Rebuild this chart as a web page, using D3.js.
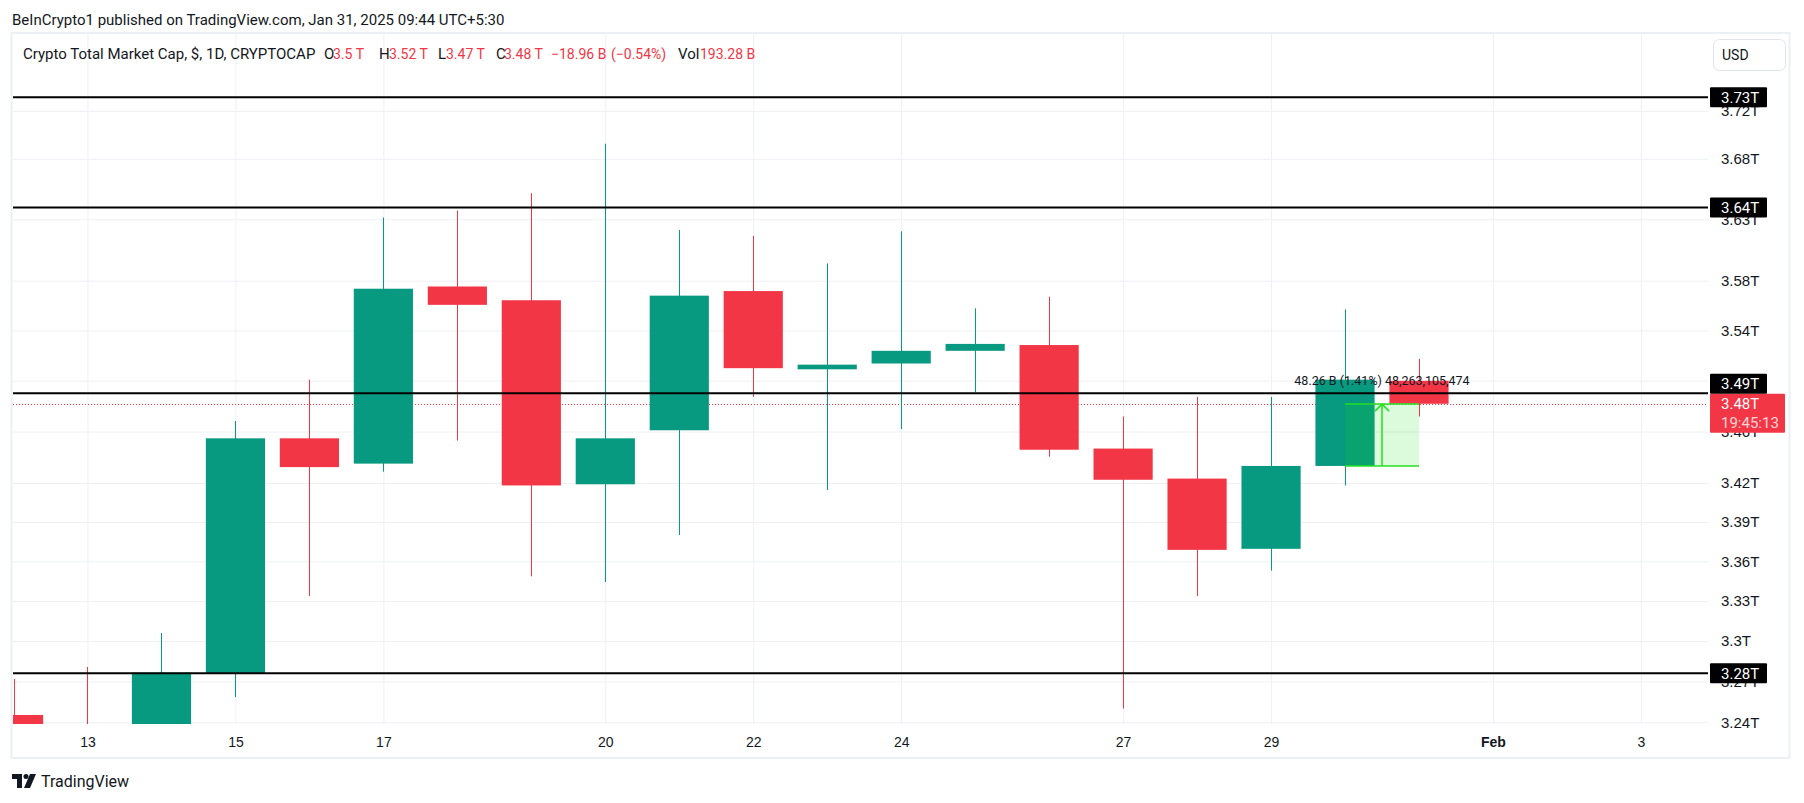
<!DOCTYPE html>
<html><head><meta charset="utf-8">
<script src="https://cdn.jsdelivr.net/npm/d3@7"></script>
<style>
html,body{margin:0;padding:0;background:#fff;}
svg{display:block;font-family:Roboto,"Liberation Sans",sans-serif;}
</style>
</head><body>
<svg id="c" width="1804" height="803"></svg>
<script>
// ---------------- data ----------------
const dates  = ["2025-01-12","2025-01-13","2025-01-14","2025-01-15","2025-01-16","2025-01-17","2025-01-18","2025-01-19","2025-01-20","2025-01-21","2025-01-22","2025-01-23","2025-01-24","2025-01-25","2025-01-26","2025-01-27","2025-01-28","2025-01-29","2025-01-30","2025-01-31"];
const opens  = [3.2453,3.22,3.20,3.2763,3.4547,3.4350,3.5753,3.5642,3.4190,3.4610,3.5716,3.5090,3.5136,3.5237,3.5283,3.4467,3.4234,3.3695,3.4332,3.4999];
const highs  = [3.2718,3.2807,3.3060,3.4682,3.5008,3.6315,3.6372,3.6515,3.6925,3.6212,3.6165,3.5940,3.6202,3.5577,3.5670,3.4718,3.4872,3.4872,3.5568,3.5173];
const lows   = [3.19,3.10,3.18,3.2584,3.3338,3.4288,3.4529,3.3486,3.3443,3.3800,3.4872,3.4145,3.4619,3.4908,3.4404,3.2500,3.3338,3.3529,3.4181,3.4718];
const closes = [3.22,3.20,3.2765,3.4547,3.4323,3.5735,3.5605,3.4181,3.4547,3.5679,3.5099,3.5127,3.5237,3.5292,3.4458,3.4225,3.3687,3.4332,3.5008,3.4818];

const yTickValues = [3.24,3.27,3.3,3.33,3.36,3.39,3.42,3.46,3.5,3.54,3.58,3.63,3.68,3.72];
const xTickDates  = ["2025-01-13","2025-01-15","2025-01-17","2025-01-20","2025-01-22","2025-01-24","2025-01-27","2025-01-29","2025-02-01","2025-02-03"];
const levelValues = [3.7315,3.6396,3.4901,3.276];
const lastPrice = 3.4818;
const countdown = "19:45:13";
const measureDates = ["2025-01-30","2025-01-31"];
const measureValues = [3.4332,3.4815];
const measureLabel = "48.26 B (1.41%) 48,263,105,474";
const yDomain = [3.2387,3.7861];
const xDomain = ["2025-01-11T23:50:00Z","2025-02-03T21:46:00Z"];

const headerText = "BeInCrypto1 published on TradingView.com, Jan 31, 2025 09:44 UTC+5:30";
const legendTexts = ["Crypto Total Market Cap, $, 1D, CRYPTOCAP","O","3.5 T","H","3.52 T","L","3.47 T","C","3.48 T","\u221218.96 B","(\u22120.54%)","Vol","193.28 B"];
const legendIsValue = [false,false,true,false,true,false,true,false,true,true,true,false,true];

// ---------------- layout ----------------
const GREEN="#089981", RED="#F23645", TXT="#131722", GRID="#eef0f4";
const plot={left:13,right:1708,top:33,bottom:724};
const legendX=[23,324,333,379,389,438,446,496,504,551,611,678,700];
const svg=d3.select("#c");
const x=d3.scaleUtc().domain(xDomain.map(d=>new Date(d))).range([plot.left,plot.right]);
const y=d3.scaleLog().domain(yDomain).range([plot.bottom,plot.top]);
const DAY=86400000;
const data=dates.map((d,i)=>({t:new Date(d+"T00:00:00Z"),o:opens[i],h:highs[i],l:lows[i],c:closes[i]}));
const fmt=v=>(+v.toFixed(2))+"T";

// frame
svg.append("rect").attr("x",11.5).attr("y",33).attr("width",1778).attr("height",725)
  .attr("fill","none").attr("stroke","#eceff3").attr("stroke-width",2);

svg.append("text").attr("x",12).attr("y",20).attr("dy","0.35em")
  .attr("font-size",15).attr("fill",TXT).text(headerText);

// clip
svg.append("clipPath").attr("id","pc").append("rect")
  .attr("x",plot.left).attr("y",plot.top).attr("width",plot.right-plot.left).attr("height",plot.bottom-plot.top);

// grids
svg.append("g").attr("transform",`translate(${plot.right},0)`)
  .call(d3.axisRight(y).tickValues(yTickValues).tickSize(-(plot.right-plot.left)).tickFormat(""))
  .call(g=>g.select(".domain").remove())
  .call(g=>g.selectAll("line").attr("stroke",GRID));
svg.append("g").attr("transform",`translate(0,${plot.bottom})`)
  .call(d3.axisBottom(x).tickValues(xTickDates.map(d=>new Date(d+"T00:00:00Z"))).tickSize(-(plot.bottom-plot.top)).tickFormat(""))
  .call(g=>g.select(".domain").remove())
  .call(g=>g.selectAll("line").attr("stroke",GRID));

const pg=svg.append("g").attr("clip-path","url(#pc)");

// last price dotted line
pg.append("line").attr("x1",plot.left).attr("x2",plot.right)
  .attr("y1",Math.round(y(lastPrice))+0.5).attr("y2",Math.round(y(lastPrice))+0.5)
  .attr("stroke",RED).attr("stroke-width",1).attr("stroke-dasharray","1,2");

// candles
const bw=d=>x(new Date(+d.t+0.4*DAY))-x(new Date(+d.t-0.4*DAY));
const col=d=>d.c>=d.o?GREEN:RED;
pg.selectAll("line.wick").data(data).join("line").attr("class","wick")
  .attr("x1",d=>Math.round(x(d.t))+0.5).attr("x2",d=>Math.round(x(d.t))+0.5)
  .attr("y1",d=>y(d.h)).attr("y2",d=>y(d.l)).attr("stroke",col).attr("stroke-width",1);
pg.selectAll("rect.body").data(data).join("rect").attr("class","body")
  .attr("x",d=>x(d.t)-bw(d)/2).attr("width",bw)
  .attr("y",d=>y(Math.max(d.o,d.c)))
  .attr("height",d=>Math.max(2,Math.abs(y(d.o)-y(d.c))))
  .attr("fill",col);

// horizontal levels
pg.selectAll("line.lvl").data(levelValues).join("line").attr("class","lvl")
  .attr("x1",plot.left).attr("x2",plot.right)
  .attr("y1",d=>y(d)).attr("y2",d=>y(d)).attr("stroke","#000").attr("stroke-width",2);

// measurement tool
const mx0=x(new Date(measureDates[0]+"T00:00:00Z")), mx1=x(new Date(measureDates[1]+"T00:00:00Z"));
const my0=y(measureValues[0]), my1=y(measureValues[1]);
const MG="#22e022";
pg.append("rect").attr("x",mx0).attr("y",my1).attr("width",mx1-mx0).attr("height",my0-my1)
  .attr("fill","rgba(22,222,22,0.15)");
pg.append("line").attr("x1",mx0).attr("x2",mx1).attr("y1",my1).attr("y2",my1).attr("stroke",MG).attr("stroke-width",1.5);
pg.append("line").attr("x1",mx0).attr("x2",mx1).attr("y1",my0).attr("y2",my0).attr("stroke",MG).attr("stroke-width",1.5);
const mxc=(mx0+mx1)/2;
pg.append("line").attr("x1",mxc).attr("x2",mxc).attr("y1",my0).attr("y2",my1).attr("stroke",MG).attr("stroke-width",1.5);
pg.append("path").attr("d",`M${mxc-7},${my1+7}L${mxc},${my1}L${mxc+7},${my1+7}`)
  .attr("fill","none").attr("stroke",MG).attr("stroke-width",1.5);
pg.append("text").attr("x",mxc).attr("y",my1-23).attr("dy","0.35em").attr("text-anchor","middle")
  .attr("font-size",12.5).attr("fill",TXT).text(measureLabel);

// legend
const lg=svg.append("text").attr("y",54).attr("dy","0.35em").attr("font-size",15).attr("fill",TXT);
legendTexts.forEach((t,i)=>{
  lg.append("tspan").attr("x",legendX[i]).attr("fill",legendIsValue[i]?RED:TXT)
    .attr("font-size",legendIsValue[i]?14:15).text(t);
});

// USD button
svg.append("rect").attr("x",1713.5).attr("y",39.5).attr("width",72).attr("height",31).attr("rx",6)
  .attr("fill","#fff").attr("stroke","#e0e3eb");
svg.append("text").attr("x",1722).attr("y",55).attr("dy","0.35em").attr("font-size",14).attr("fill",TXT).text("USD");

// y axis labels
svg.append("g").attr("transform",`translate(${plot.right},0)`)
  .call(d3.axisRight(y).tickValues(yTickValues).tickSize(0).tickPadding(13).tickFormat(fmt))
  .call(g=>g.select(".domain").remove())
  .call(g=>g.selectAll("text").attr("font-size",15).attr("fill",TXT).attr("font-family",null));

// x axis labels
svg.append("g").attr("transform",`translate(0,${plot.bottom})`)
  .call(d3.axisBottom(x).tickValues(xTickDates.map(d=>new Date(d+"T00:00:00Z"))).tickSize(0).tickPadding(13)
    .tickFormat(d=>d.getUTCDate()===1?d3.utcFormat("%b")(d):d.getUTCDate()))
  .call(g=>g.select(".domain").remove())
  .call(g=>g.selectAll("text").attr("font-size",14).attr("fill",TXT).attr("font-family",null)
     .attr("font-weight",d=>d.getUTCDate()===1?"bold":null));

// last price box
const ly=y(lastPrice);
const redTop=ly-10;
svg.append("rect").attr("x",1710).attr("y",redTop).attr("width",75).attr("height",39).attr("rx",1).attr("fill",RED);
svg.append("text").attr("x",1721).attr("y",ly).attr("dy","0.35em").attr("font-size",15).attr("fill","#fff").text(fmt(lastPrice));
svg.append("text").attr("x",1721).attr("y",ly+19).attr("dy","0.35em").attr("font-size",15).attr("fill","rgba(255,255,255,0.8)").text(countdown);

// level labels
levelValues.forEach(v=>{
  let top=y(v)-10;
  if(top+20>redTop && top<redTop+39) top=redTop-20;
  svg.append("rect").attr("x",1710).attr("y",top).attr("width",57).attr("height",20).attr("rx",1).attr("fill","#000");
  svg.append("text").attr("x",1721).attr("y",top+10).attr("dy","0.35em").attr("font-size",15).attr("fill","#fff").text(fmt(v));
});

// TradingView logo
const lgG=svg.append("g").attr("transform","translate(12,774)");
lgG.append("path").attr("d","M0,0H10V14H5V5H0Z").attr("fill",TXT);
lgG.append("circle").attr("cx",14).attr("cy",2.5).attr("r",2.5).attr("fill",TXT);
lgG.append("path").attr("d","M18,0H24L18,14H12Z").attr("fill",TXT);
svg.append("text").attr("x",41).attr("y",781).attr("dy","0.35em").attr("font-size",16).attr("fill",TXT).text("TradingView");
</script>
</body></html>
